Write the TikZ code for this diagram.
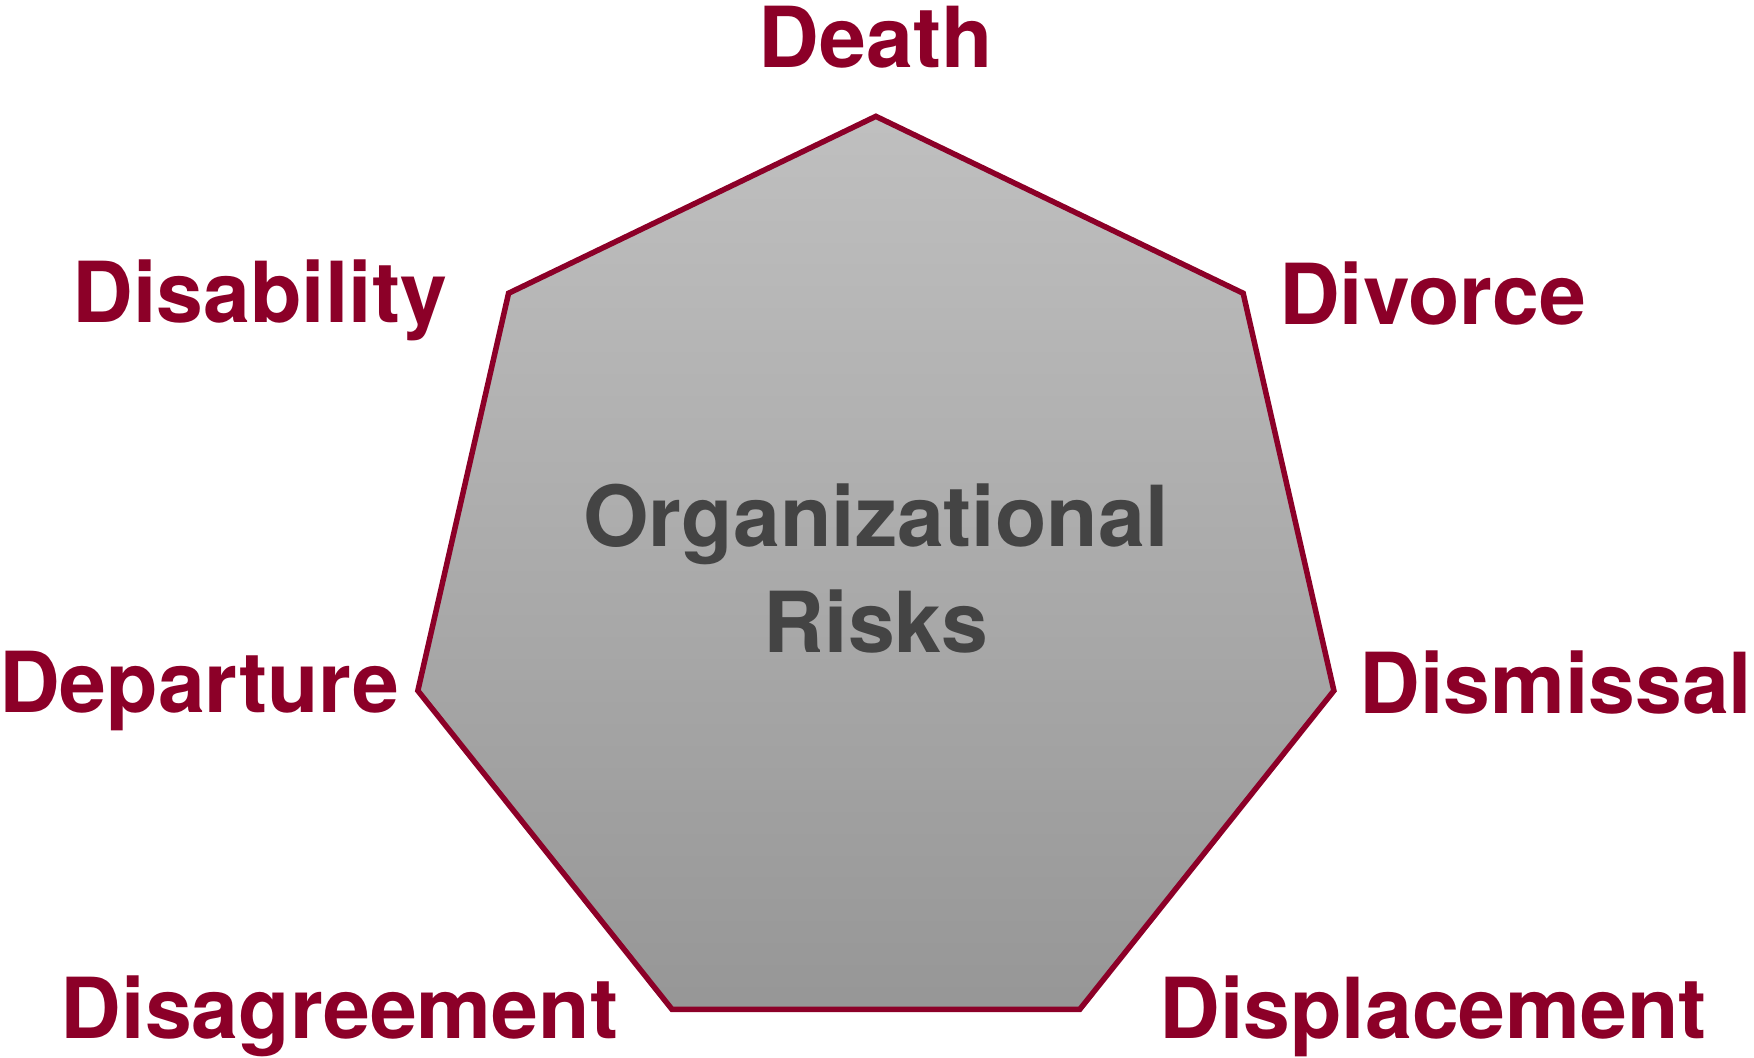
\documentclass[tikz,border=0pt]{standalone}
\usepackage{fontspec}
\setmainfont{TeX Gyre Heros}
\usepackage{tikz}
\definecolor{RiskRed}{HTML}{8C0028}
\definecolor{CoreGrey}{HTML}{444444}

\begin{document}
\begin{tikzpicture}[x=0.01cm, y=-0.01cm, line width=1.4pt,
      every node/.append style={inner sep=0pt, font=\fontsize{21.4}{26.9}\selectfont\bfseries},
      risk/.style={color=RiskRed},
      core/.style={color=CoreGrey, align=center},
      hepta/.style={draw=RiskRed, top color=black!25, bottom color=black!41, line join=miter}]
	  \useasboundingbox (0,0) rectangle (1568,945);
	  % corners of the heptagon
	  \foreach \k in {0,...,6}
	    \coordinate (v\k) at ([shift={(783,524)}]{\k*360/7-90}:420);
	  \path[hepta] (v0) -- (v1) -- (v2) -- (v3) -- (v4) -- (v5) -- (v6) -- cycle;
	  \node (core) [core] at (783,508) {Organizational\\Risks};
	  % the seven D's
	  \node (death)    [risk, anchor=base]      at (783,60)  {Death};
	  \node (divorce)  [risk, anchor=base west] at (1141,290) {Divorce};
	  \node (dismiss)  [risk, anchor=base east] at (1569,638) {Dismissal};
	  \node (displace) [risk, anchor=base west] at (1034,928) {Displacement};
	  \node (disagree) [risk, anchor=base east] at (555,928) {Disagreement};
	  \node (depart)   [risk, anchor=base east] at (359,637) {Departure};
	  \node (disable)  [risk, anchor=base east] at (402,288) {Disability};
	\end{tikzpicture}
\end{document}
